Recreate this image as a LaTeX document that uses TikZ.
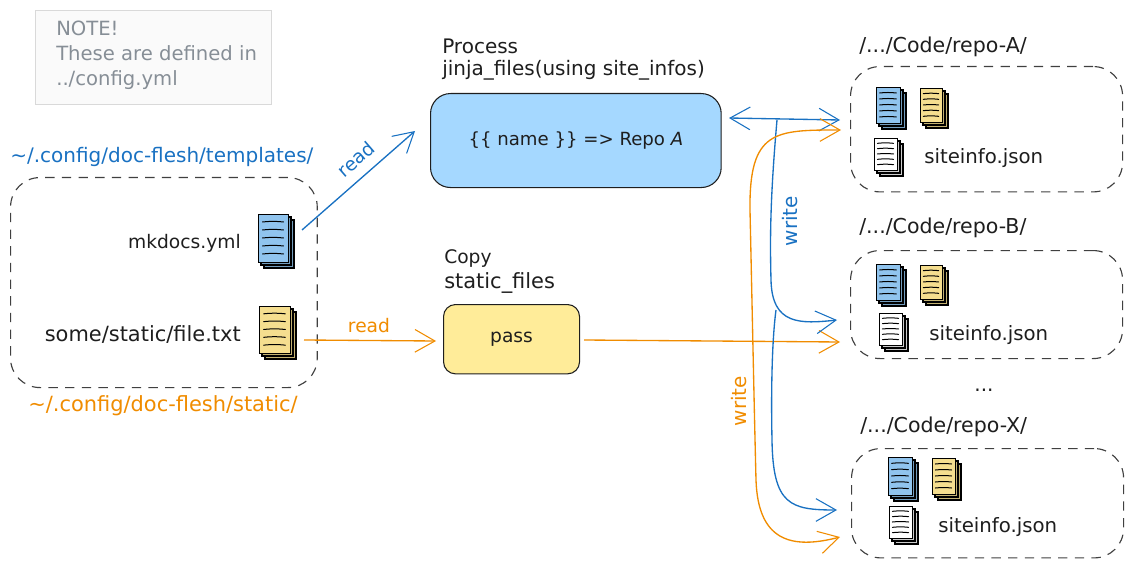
\documentclass[tikz,border=0pt]{standalone}
\usepackage{fontspec}
\setmainfont{DejaVu Sans}
\usetikzlibrary{arrows.meta}
\definecolor{inkblue}{HTML}{1971C2}
\definecolor{inkorange}{HTML}{F08C00}
\definecolor{inkblack}{HTML}{1E1E1E}
\definecolor{inkgray}{HTML}{868E96}
\definecolor{paleblue}{HTML}{A5D8FF}
\definecolor{paleyellow}{HTML}{FFEC99}
\definecolor{stackblue}{HTML}{90C4EE}
\definecolor{stackyellow}{HTML}{F5DE8F}
\tikzset{
  sized/.style={font=\fontsize{#1}{18.75}\selectfont},
  txt/.style={inner sep=0pt,anchor=west,text=inkblack,sized=15},
  bluetxt/.style={txt,text=inkblue},
  orangetxt/.style={txt,text=inkorange},
  folder/.style={draw=inkblack!85,line width=0.85pt,dash pattern=on 7pt off 5.5pt,rounded corners=22pt,anchor=north west,inner sep=0pt},
  stepbox/.style={draw=inkblack,line width=0.8pt,anchor=north west,inner sep=0pt,text=inkblack},
  docpage/.style={draw=black,line width=1pt,anchor=north west,inner sep=0pt},
  docline/.style={black,line width=0.75pt,line cap=round},
  blueline/.style={draw=inkblue,line width=1pt},
  orangeline/.style={draw=inkorange,line width=1pt},
}
% name, x, y, width, height, colour
\newcommand{\docstack}[6]{
  \foreach \d in {6,3}
    \draw[black,line width=1pt,fill=#6!80!black] ({#2+\d},{#3+\d}) rectangle ({#2+#4+\d},{#3+#5+\d});
  \node[docpage,fill=#6,minimum width=#4*0.75pt,minimum height=#5*0.75pt] (#1) at (#2,#3) {};
  \foreach \k in {1,...,5}
    \draw[docline] ({#2+0.15*#4},{#3+\k*#5/6}) to[bend left=6] ({#2+0.85*#4},{#3+\k*#5/6});
}
\begin{document}
\begin{tikzpicture}[x=0.75pt,y=-0.75pt,>={Straight Barb[length=15pt,width=17pt,line width=0.8pt]}]
  \useasboundingbox (0,0) rectangle (1133,567);
  % note
  \node[draw=black!15,fill=black!2,line width=1pt,anchor=north west,minimum width=177pt,minimum height=70.5pt] (notebox) at (35,10) {};
  \node[txt,text=inkgray,align=left,anchor=north west,sized=14.7] (notetxt) at (56,21) {NOTE!\\These are defined in\\../config.yml};

  % source folder
  \node[bluetxt] (tplpath) at (10,157) {\textasciitilde/.config/doc-flesh/templates/};
  \node[folder,minimum width=230pt,minimum height=157.5pt] (srcbox) at (10,177) {};
  \node[txt,anchor=east,sized=14] (mktxt) at (241,243) {mkdocs.yml};
  \node[txt,anchor=east,sized=15.7] (filetxt) at (241,335) {some/static/file.txt};
  \docstack{mkdoc}{258}{214}{30}{48}{stackblue}
  \docstack{filedoc}{259}{306}{31}{47}{stackyellow}
  \node[orangetxt,sized=15.7] (stpath) at (28,406) {\textasciitilde/.config/doc-flesh/static/};

  % steps
  \node[txt] (proctxt) at (442,46) {Process};
  \node[txt] (jinjatxt) at (442,70) {jinja\_files(using site\_infos)};
  \node[stepbox,fill=paleblue,rounded corners=15pt,minimum width=218pt,minimum height=70.5pt,sized=13.6] (procbox) at (430,93) {\{\{ name \}\} => Repo \textit{A}};
  \node[txt,sized=14] (copytxt) at (444,259) {Copy};
  \node[txt,sized=15.7] (statictxt) at (444,283) {static\_files};
  \node[stepbox,fill=paleyellow,rounded corners=9pt,minimum width=102pt,minimum height=52pt,sized=14] (passbox) at (443,304) {pass};

  % target folders
  \node[txt,sized=15.4] (repoatxt) at (859,47) {/.../Code/repo-A/};
  \node[folder,minimum width=204pt,minimum height=94pt] (repoa) at (850,66) {};
  \docstack{ablue}{876}{87}{24}{36}{stackblue}
  \docstack{ayellow}{920}{88}{22}{34}{stackyellow}
  \docstack{ainfo}{874}{138}{23}{32}{white}
  \node[txt,sized=14.8] (ainfotxt) at (924,158) {siteinfo.json};

  \node[txt,sized=15.4] (repobtxt) at (859,228) {/.../Code/repo-B/};
  \node[folder,minimum width=204pt,minimum height=81pt] (repob) at (850,250) {};
  \docstack{bblue}{876}{264}{24}{36}{stackblue}
  \docstack{byellow}{920}{265}{22}{34}{stackyellow}
  \docstack{binfo}{879}{313}{23}{32}{white}
  \node[txt,sized=14.8] (binfotxt) at (929,335) {siteinfo.json};

  \node[txt,anchor=center] (moretxt) at (984,390) {...};

  \node[txt,sized=15.4] (repoxtxt) at (860,427) {/.../Code/repo-X/};
  \node[folder,minimum width=204pt,minimum height=82pt] (repox) at (851,448) {};
  \docstack{xblue}{888}{457}{24}{38}{stackblue}
  \docstack{xyellow}{932}{458}{23}{36}{stackyellow}
  \docstack{xinfo}{889}{506}{23}{32}{white}
  \node[txt,sized=14.8] (xinfotxt) at (938,527) {siteinfo.json};

  % free ends of the connectors
  \coordinate (mkout) at (302,230);
  \coordinate (procin) at (415,131);
  \coordinate (fileout) at (304,340);
  \coordinate (passin) at (436,341);
  \coordinate (passout) at (584,340);
  \coordinate (procout) at (729,118);
  \coordinate (split) at (777,120);
  \coordinate (splitlow) at (776,310);
  \coordinate (ablueend) at (840,120);
  \coordinate (aorangeend) at (841,130);
  \coordinate (bblueend) at (837,320);
  \coordinate (borangeend) at (840,342);
  \coordinate (xblueend) at (837,510);
  \coordinate (xorangeend) at (840,537);

  \draw[blueline,->] (mkout) -- (procin);
  \node[bluetxt,rotate=41,anchor=center,sized=14] (readblue) at (356,159) {read};
  \draw[orangeline,->] (fileout) -- (passin);
  \node[orangetxt,anchor=center,sized=14] (readorange) at (369,326) {read};
  \draw[orangeline,->] (passout) -- (borangeend);
  \draw[blueline,<->] (procout) -- (ablueend);
  \draw[blueline,->] (split) .. controls (770,200) and (770,240) .. (771,280)
    .. controls (772,325) and (800,324) .. (bblueend);
  \draw[blueline,->] (splitlow) .. controls (772,340) and (771,390) .. (772,440)
    .. controls (773,505) and (790,510) .. (xblueend);
  \draw[orangeline,<->] (aorangeend) .. controls (775,130) and (749,130) .. (750,210)
    .. controls (752,300) and (754,400) .. (756,480)
    .. controls (758,540) and (790,550) .. (xorangeend);
  \node[bluetxt,rotate=90,anchor=center,sized=15] (writeblue) at (790,221) {write};
  \node[orangetxt,rotate=90,anchor=center,sized=15] (writeorange) at (739,401) {write};
\end{tikzpicture}
\end{document}
